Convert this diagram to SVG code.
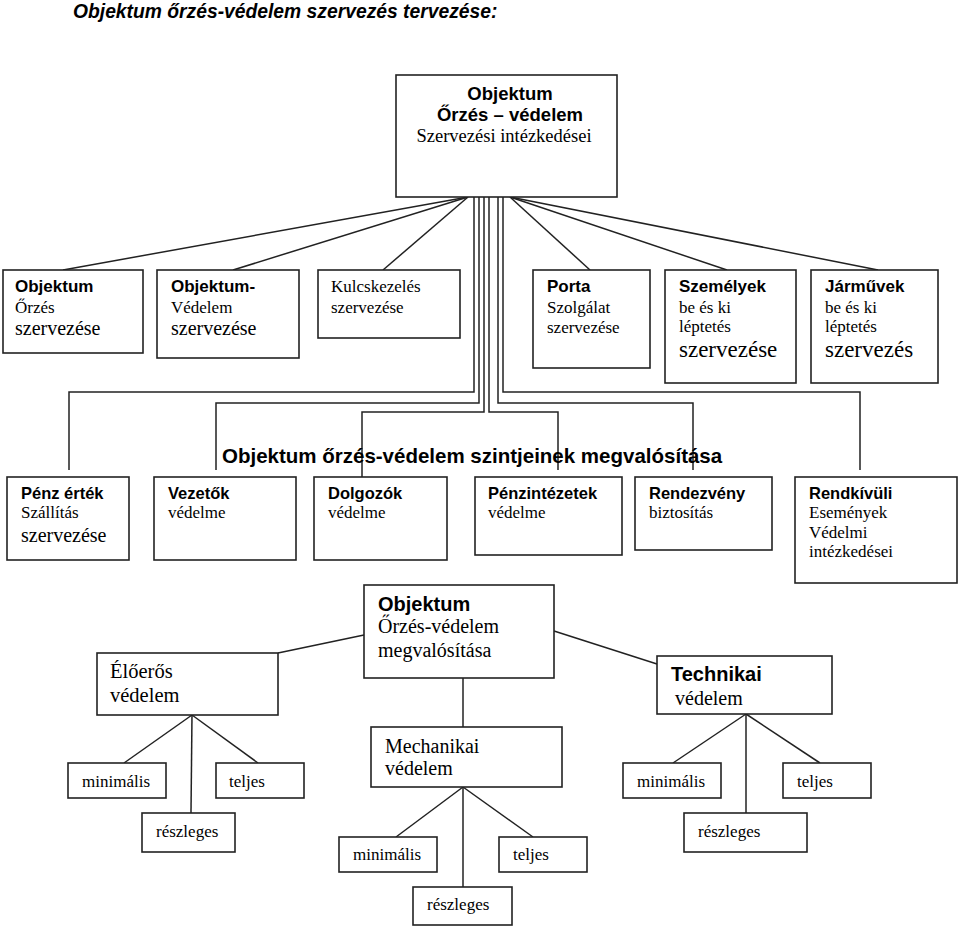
<svg xmlns="http://www.w3.org/2000/svg" width="960" height="927" viewBox="0 0 960 927">
<style>
rect{fill:#fff;stroke:#222;stroke-width:1.6}
.c line,.c polyline{stroke:#222;stroke-width:1.5;fill:none}
text{fill:#000}
.b{font-family:"Liberation Sans",Arial,sans-serif;font-weight:bold}
.s{font-family:"Liberation Serif","Times New Roman",serif}
</style>
<rect x="0" y="0" width="960" height="927" style="stroke:none"/>
<text class="b" x="73" y="18" font-size="19.3" font-style="italic">Objektum őrzés-védelem szervezés tervezése:</text>

<g class="c" id="connectors">
<line x1="468" y1="197" x2="63" y2="270"/>
<line x1="468" y1="197" x2="233" y2="270"/>
<line x1="468" y1="197" x2="383" y2="270"/>
<line x1="510" y1="197" x2="590" y2="270"/>
<line x1="510" y1="197" x2="727" y2="270"/>
<line x1="510" y1="197" x2="878" y2="270"/>
<polyline points="474,197 474,392 69,392 69,470"/>
<polyline points="479,197 479,403 216,403 216,470"/>
<polyline points="484,197 484,412 362,412 362,477"/>
<polyline points="489,197 489,412 558,412 558,470"/>
<polyline points="498,197 498,403 693,403 693,470"/>
<polyline points="503,197 503,392 860,392 860,470"/>
<line x1="364" y1="635" x2="278" y2="653"/>
<line x1="463" y1="678" x2="463" y2="727"/>
<line x1="554" y1="631" x2="657" y2="664"/>
<line x1="192" y1="715" x2="124" y2="763"/>
<line x1="192" y1="715" x2="191" y2="813"/>
<line x1="192" y1="715" x2="258" y2="763"/>
<line x1="463" y1="787" x2="396" y2="837"/>
<line x1="463" y1="787" x2="463" y2="887"/>
<line x1="463" y1="787" x2="533" y2="837"/>
<line x1="746" y1="714" x2="673" y2="763"/>
<line x1="746" y1="714" x2="746" y2="817"/>
<line x1="746" y1="714" x2="820" y2="763"/>
</g>

<g id="top">
<rect x="396" y="75" width="221" height="122"/>
<text class="b" x="510" y="100" font-size="18.5" text-anchor="middle">Objektum</text>
<text class="b" x="510" y="121" font-size="18.5" text-anchor="middle">Őrzés – védelem</text>
<text class="s" x="504" y="142" font-size="18.5" text-anchor="middle">Szervezési intézkedései</text>
</g>

<g id="n-objektum-orzes">
<rect x="3" y="270" width="140" height="83"/>
<text class="b" x="15" y="292" font-size="17">Objektum</text>
<text class="s" x="15" y="313" font-size="17">Őrzés</text>
<text class="s" x="15" y="335" font-size="20">szervezése</text>
</g>
<g id="n-objektum-vedelem">
<rect x="157" y="270" width="142" height="88"/>
<text class="b" x="171" y="292" font-size="17">Objektum-</text>
<text class="s" x="171" y="313" font-size="17">Védelem</text>
<text class="s" x="171" y="335" font-size="20">szervezése</text>
</g>
<g id="n-kulcs">
<rect x="318" y="270" width="142" height="68"/>
<text class="s" x="331" y="292" font-size="17">Kulcskezelés</text>
<text class="s" x="331" y="313" font-size="17">szervezése</text>
</g>
<g id="n-porta">
<rect x="533" y="270" width="117" height="98"/>
<text class="b" x="547" y="292" font-size="17">Porta</text>
<text class="s" x="547" y="313" font-size="17">Szolgálat</text>
<text class="s" x="547" y="333" font-size="17">szervezése</text>
</g>
<g id="n-szemelyek">
<rect x="665" y="270" width="131" height="113"/>
<text class="b" x="679" y="292" font-size="17">Személyek</text>
<text class="s" x="679" y="313" font-size="17">be és ki</text>
<text class="s" x="679" y="332" font-size="17">léptetés</text>
<text class="s" x="679" y="357" font-size="23">szervezése</text>
</g>
<g id="n-jarmuvek">
<rect x="811" y="270" width="127" height="113"/>
<text class="b" x="825" y="292" font-size="17">Járművek</text>
<text class="s" x="825" y="313" font-size="17">be és ki</text>
<text class="s" x="825" y="332" font-size="17">léptetés</text>
<text class="s" x="825" y="357" font-size="23">szervezés</text>
</g>

<text class="b" x="222" y="463" font-size="20.5">Objektum őrzés-védelem szintjeinek megvalósítása</text>

<g id="n-penz">
<rect x="7" y="477" width="122" height="83"/>
<text class="b" x="21" y="499" font-size="16.5">Pénz érték</text>
<text class="s" x="21" y="518" font-size="17">Szállítás</text>
<text class="s" x="21" y="542" font-size="20">szervezése</text>
</g>
<g id="n-vezetok">
<rect x="154" y="477" width="142" height="83"/>
<text class="b" x="168" y="499" font-size="16.5">Vezetők</text>
<text class="s" x="168" y="518" font-size="17">védelme</text>
</g>
<g id="n-dolgozok">
<rect x="314" y="477" width="133" height="83"/>
<text class="b" x="328" y="499" font-size="16.5">Dolgozók</text>
<text class="s" x="328" y="518" font-size="17">védelme</text>
</g>
<g id="n-penzintezetek">
<rect x="475" y="477" width="147" height="78"/>
<text class="b" x="488" y="499" font-size="16.5">Pénzintézetek</text>
<text class="s" x="488" y="518" font-size="17">védelme</text>
</g>
<g id="n-rendezveny">
<rect x="635" y="477" width="137" height="73"/>
<text class="b" x="649" y="499" font-size="16.5">Rendezvény</text>
<text class="s" x="649" y="518" font-size="17">biztosítás</text>
</g>
<g id="n-rendkivuli">
<rect x="795" y="477" width="162" height="106"/>
<text class="b" x="809" y="499" font-size="16.5">Rendkívüli</text>
<text class="s" x="809" y="518" font-size="17">Események</text>
<text class="s" x="809" y="538" font-size="17">Védelmi</text>
<text class="s" x="809" y="557" font-size="17">intézkedései</text>
</g>

<g id="n-megvalositas">
<rect x="364" y="585" width="190" height="93"/>
<text class="b" x="378" y="611" font-size="20">Objektum</text>
<text class="s" x="378" y="633" font-size="20">Őrzés-védelem</text>
<text class="s" x="378" y="657" font-size="20">megvalósítása</text>
</g>
<g id="n-eloeros">
<rect x="97" y="653" width="181" height="62"/>
<text class="s" x="110" y="678" font-size="20.5">Élőerős</text>
<text class="s" x="110" y="702" font-size="20.5">védelem</text>
</g>
<g id="n-technikai">
<rect x="657" y="656" width="175" height="58"/>
<text class="b" x="671" y="681" font-size="20">Technikai</text>
<text class="s" x="675" y="705" font-size="20">védelem</text>
</g>
<g id="n-mechanikai">
<rect x="371" y="727" width="191" height="60"/>
<text class="s" x="385" y="753" font-size="20">Mechanikai</text>
<text class="s" x="385" y="775" font-size="20">védelem</text>
</g>

<g id="n-e-min">
<rect x="68" y="763" width="98" height="35"/>
<text class="s" x="82" y="787" font-size="17">minimális</text>
</g>
<g id="n-e-telj">
<rect x="216" y="763" width="88" height="35"/>
<text class="s" x="229" y="787" font-size="17">teljes</text>
</g>
<g id="n-e-resz">
<rect x="142" y="813" width="93" height="39"/>
<text class="s" x="156" y="837" font-size="17">részleges</text>
</g>
<g id="n-m-min">
<rect x="339" y="837" width="98" height="35"/>
<text class="s" x="353" y="860" font-size="17">minimális</text>
</g>
<g id="n-m-telj">
<rect x="499" y="837" width="88" height="35"/>
<text class="s" x="513" y="860" font-size="17">teljes</text>
</g>
<g id="n-m-resz">
<rect x="413" y="887" width="99" height="38"/>
<text class="s" x="427" y="910" font-size="17">részleges</text>
</g>
<g id="n-t-min">
<rect x="623" y="763" width="98" height="35"/>
<text class="s" x="637" y="787" font-size="17">minimális</text>
</g>
<g id="n-t-telj">
<rect x="783" y="763" width="88" height="35"/>
<text class="s" x="797" y="787" font-size="17">teljes</text>
</g>
<g id="n-t-resz">
<rect x="684" y="813" width="123" height="39"/>
<text class="s" x="698" y="837" font-size="17">részleges</text>
</g>
</svg>
